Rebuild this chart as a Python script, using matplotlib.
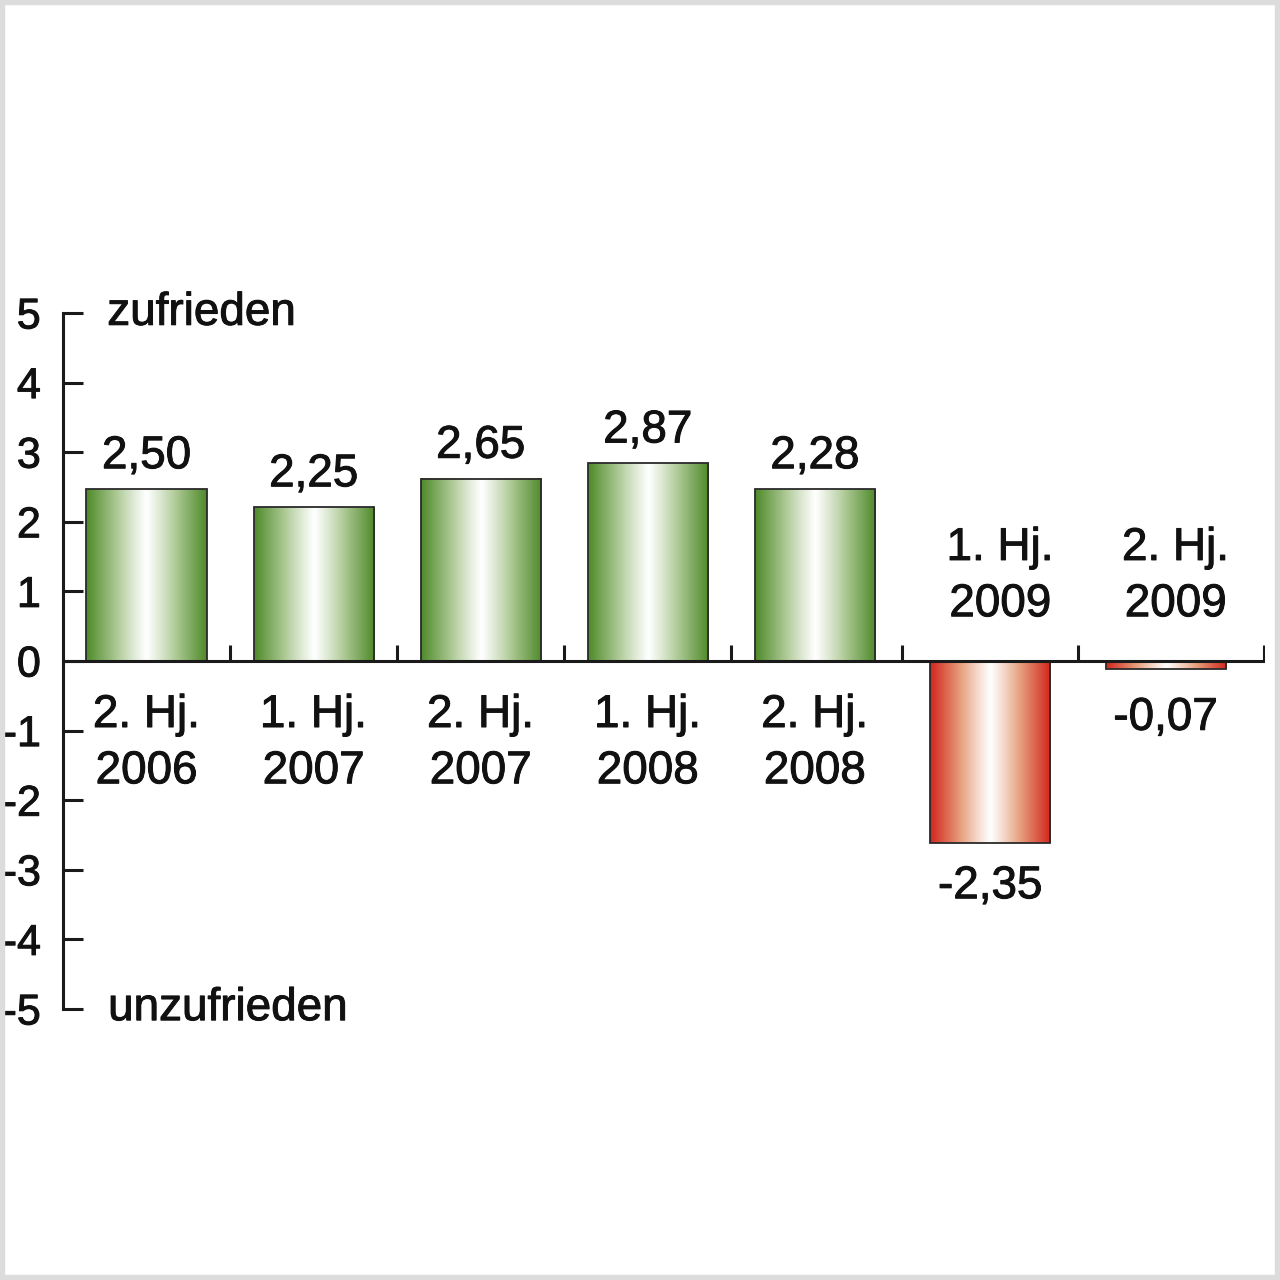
import numpy as np
import matplotlib
matplotlib.use("Agg")
import matplotlib.pyplot as plt
import matplotlib.patheffects as pe
from matplotlib.patches import Rectangle
from matplotlib.colors import to_rgb

plt.rcParams['font.family'] = ['Liberation Sans', 'DejaVu Sans']
plt.rcParams['axes.unicode_minus'] = False

# ---- data ----
categories = ["2. Hj.\n2006", "1. Hj.\n2007", "2. Hj.\n2007", "1. Hj.\n2008",
              "2. Hj.\n2008", "1. Hj.\n2009", "2. Hj.\n2009"]
bar_values = [2.47, 2.21, 2.62, 2.84, 2.47, -2.62, -0.12]   # heights as drawn
value_labels = ["2,50", "2,25", "2,65", "2,87", "2,28", "-2,35", "-0,07"]
yticks = [5, 4, 3, 2, 1, 0, -1, -2, -3, -4, -5]
top_label = "zufrieden"
bottom_label = "unzufrieden"

GREEN = "#4e8a2a"
GREEN_MID = "#acc893"
RED = "#d2261c"
RED_MID = "#e69e7c"
AX = "#1a1a1a"
TXT = "#111111"
FS = 33
STROKE = [pe.withStroke(linewidth=0.7, foreground=TXT)]

fig = plt.figure(figsize=(12.8, 12.8), dpi=100)
fig.patch.set_facecolor("white")
ax = fig.add_axes([63/1280, 271/1280, (1265-63)/1280, (967-271)/1280])

n = len(bar_values)
x = np.arange(n, dtype=float)
x[5:] += np.array([0.05, 0.10])      # the two 2009 slots are a little wider
width = 0.719
bars = ax.bar(x, bar_values, width=width, facecolor="none",
              edgecolor="#2a2a2a", linewidth=1.3, zorder=4)


def gradient(edge, mid):
    t = np.linspace(0, 1, 256)
    d = np.abs(t - 0.5) / 0.5
    e = np.array(to_rgb(edge))
    m = np.array(to_rgb(mid))
    w = np.array([1.0, 1.0, 1.0])
    out = np.zeros((1, 256, 3))
    for i, di in enumerate(d):
        if di < 0.5:
            f = (di / 0.5) ** 1.1
            out[0, i] = w * (1 - f) + m * f
        else:
            f = (di - 0.5) / 0.5
            out[0, i] = m * (1 - f) + e * f
    return out

g_green = gradient(GREEN, GREEN_MID)
g_red = gradient(RED, RED_MID)

for b, v in zip(bars, bar_values):
    x0 = b.get_x()
    x1 = x0 + b.get_width()
    y0 = b.get_y()
    y1 = y0 + b.get_height()
    img = g_green if v >= 0 else g_red
    ax.imshow(img, extent=[x0, x1, min(y0, y1), max(y0, y1)], aspect="auto",
              interpolation="bicubic", zorder=3)

ax.set_xlim(-0.5, 6.695)
ax.set_ylim(-5, 5)

# spines
for s in ["top", "right", "bottom"]:
    ax.spines[s].set_visible(False)
ax.spines["left"].set_linewidth(2.2)
ax.spines["left"].set_color(AX)
ax.set_yticks(yticks)
ax.set_yticklabels([str(t) for t in yticks])
ax.tick_params(axis="y", direction="in", length=14.5, width=2.2, color=AX,
               pad=16, labelsize=31, labelcolor=TXT)
for lab in ax.get_yticklabels():
    lab.set_path_effects(STROKE)
ax.set_xticks([])

# zero line and category separators
ax.axhline(0, color=AX, linewidth=2.2, zorder=5)
seps = list((x[:-1] + x[1:]) / 2) + [ax.get_xlim()[1] - 0.004]
ax.vlines(seps, 0, 0.23, color=AX, linewidth=2.2, zorder=5)

# value labels
for xi, v, lab in zip(x, bar_values, value_labels):
    if v >= 0:
        ax.text(xi, v + 0.30, lab, ha="center", va="baseline", fontsize=FS,
                color=TXT, zorder=6, path_effects=STROKE)
    else:
        ytop = min(v - 0.30, -0.50)
        ax.text(xi, ytop, lab, ha="center", va="top", fontsize=FS,
                color=TXT, zorder=6, path_effects=STROKE)

# category labels
for xi, v, cat in zip(x, bar_values, categories):
    if v >= 0:
        ax.text(xi, -0.46, cat, ha="center", va="top", fontsize=FS,
                linespacing=1.36, color=TXT, zorder=6, path_effects=STROKE)
    else:
        ax.text(xi + 0.06, 0.50, cat, ha="center", va="bottom", fontsize=FS,
                linespacing=1.36, color=TXT, zorder=6, path_effects=STROKE)

# axis end labels
ax.text(-0.235, 4.83, top_label, ha="left", va="baseline", fontsize=FS,
        color=TXT, clip_on=False, path_effects=STROKE)
ax.text(-0.23, -5.16, bottom_label, ha="left", va="baseline", fontsize=FS,
        color=TXT, clip_on=False, path_effects=STROKE)

# light grey frame around the picture
fig.patches.append(Rectangle((0, 0), 1, 1, transform=fig.transFigure,
                             fill=False, edgecolor="#dcdcdc", linewidth=7.5))

fig.savefig("out.png", dpi=100, facecolor="white")
